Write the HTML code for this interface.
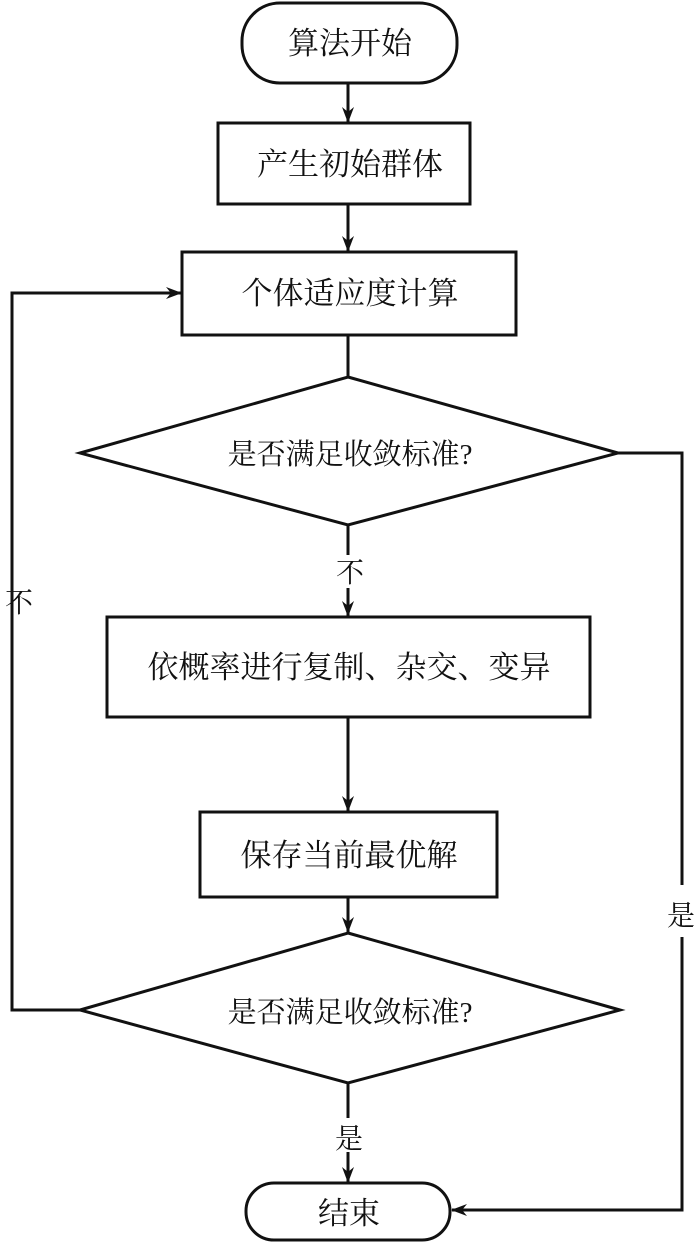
<!DOCTYPE html>
<html><head><meta charset="utf-8"><style>
body{margin:0;background:#fff}
svg text{font-family:"Liberation Serif","Noto Serif CJK SC","Noto Sans CJK SC",serif;fill:#111}
</style></head><body>
<svg width="700" height="1243" viewBox="0 0 700 1243" xmlns="http://www.w3.org/2000/svg">
<defs><marker id="a" markerWidth="16" markerHeight="12" refX="15" refY="6" orient="auto" markerUnits="userSpaceOnUse"><path d="M0,0 L16,6 L0,12 L5,6 Z" fill="#111"/></marker></defs>
<g stroke="#111" stroke-width="3" fill="none">
<rect x="242" y="3" width="215" height="80" rx="38"/>
<line x1="348" y1="83" x2="348" y2="122" marker-end="url(#a)"/>
<rect x="218" y="123" width="252" height="81"/>
<line x1="348" y1="204" x2="348" y2="251" marker-end="url(#a)"/>
<rect x="182" y="252" width="334" height="83"/>
<line x1="348" y1="335" x2="348" y2="376"/>
<polygon points="348,377 618,453 348,525 80,453"/>
<line x1="348" y1="525" x2="348" y2="555"/>
<line x1="348" y1="588" x2="348" y2="616" marker-end="url(#a)"/>
<rect x="107" y="617" width="483" height="100"/>
<line x1="348" y1="717" x2="348" y2="811" marker-end="url(#a)"/>
<rect x="200" y="812" width="297" height="85"/>
<line x1="348" y1="897" x2="348" y2="932" marker-end="url(#a)"/>
<polygon points="348,933 620,1010 348,1083 80,1010"/>
<line x1="348" y1="1083" x2="348" y2="1118"/>
<line x1="348" y1="1152" x2="348" y2="1182" marker-end="url(#a)"/>
<rect x="246" y="1183" width="204" height="57" rx="28"/>
<polyline points="80,1010 12,1010 12,293 181,293" marker-end="url(#a)"/>
<polyline points="618,453 682,453 682,885"/>
<polyline points="682,937 682,1210 452,1210" marker-end="url(#a)"/>
</g>
<g font-size="31" text-anchor="middle">
<text x="350" y="54">算法开始</text>
<text x="350" y="175">产生初始群体</text>
<text x="350" y="304">个体适应度计算</text>
<text x="350" y="464" font-size="29">是否满足收敛标准?</text>
<text x="350" y="582" font-size="28">不</text>
<text x="349" y="678">依概率进行复制、杂交、变异</text>
<text x="349" y="866">保存当前最优解</text>
<text x="350" y="1022" font-size="29">是否满足收敛标准?</text>
<text x="349" y="1148" font-size="28">是</text>
<text x="349" y="1224">结束</text>
<text x="19" y="612" font-size="28">不</text>
<text x="681" y="925" font-size="28">是</text>
</g>
</svg>
</body></html>
